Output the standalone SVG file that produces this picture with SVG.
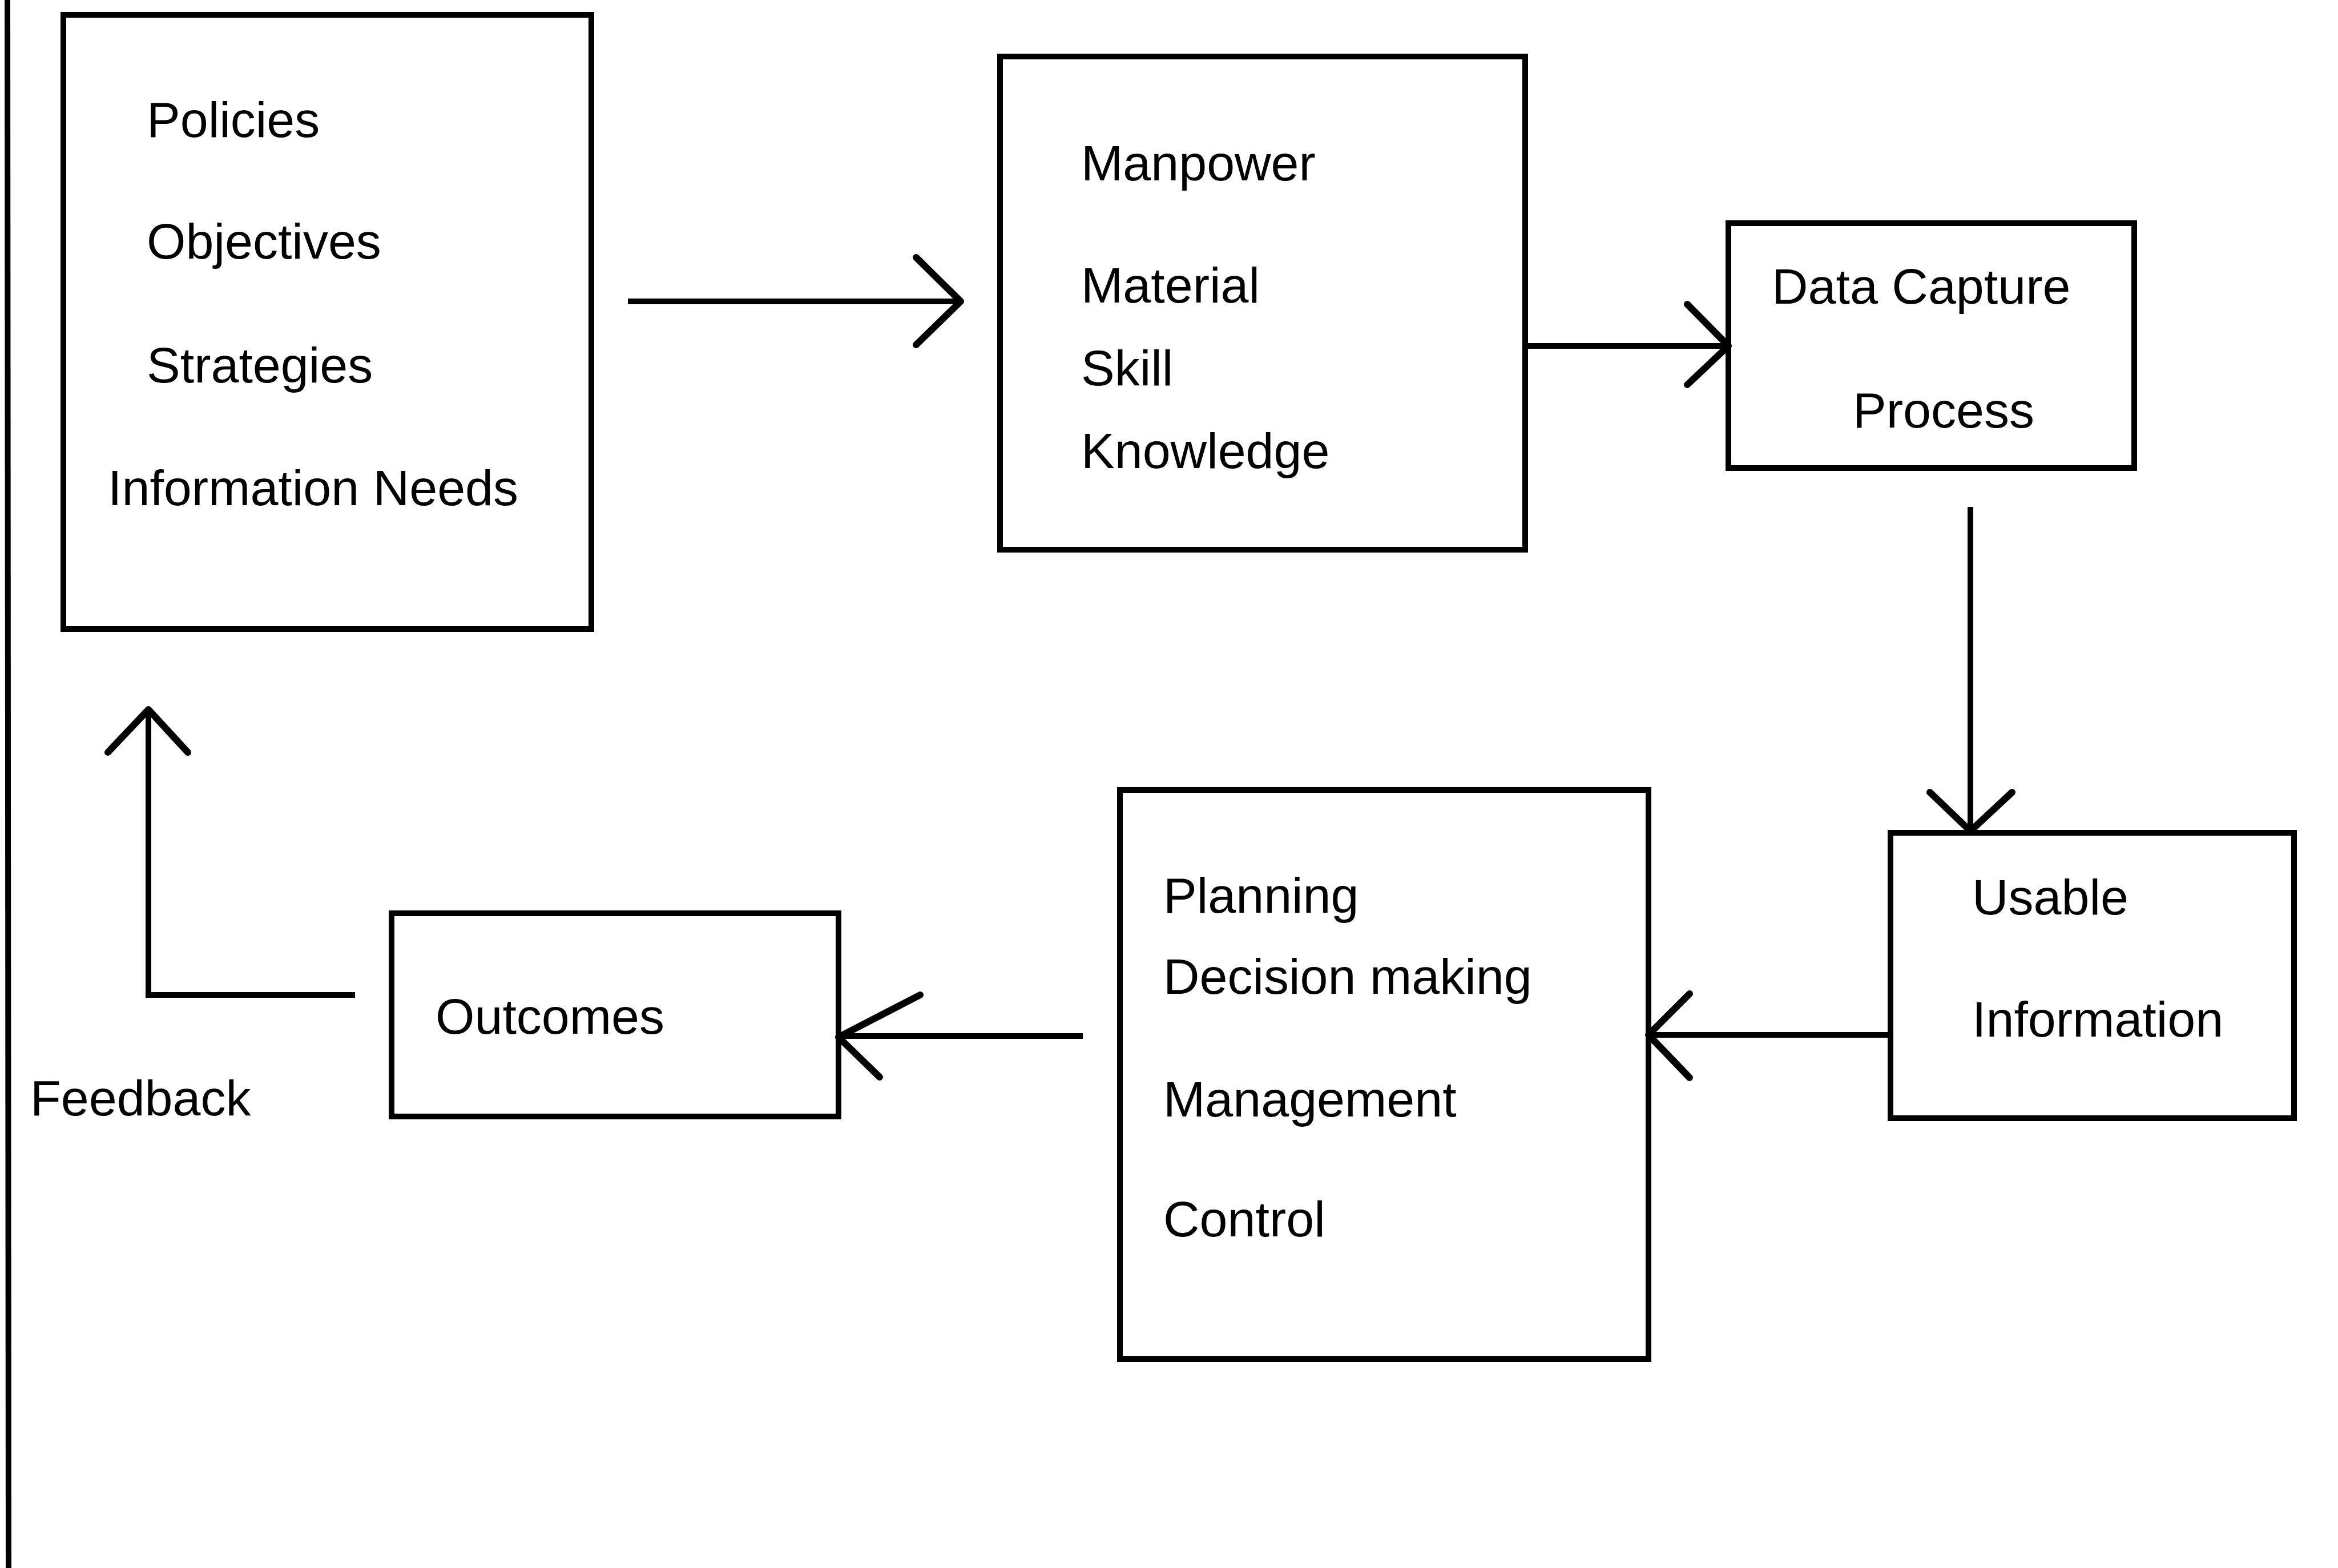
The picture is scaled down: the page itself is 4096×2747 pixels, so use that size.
<svg xmlns="http://www.w3.org/2000/svg" width="4096" height="2747" viewBox="0 0 4096 2747">
<style>
.box{fill:none;stroke:#000;stroke-width:10}
.ln{fill:none;stroke:#000;stroke-width:10}
.hd{fill:none;stroke:#000;stroke-width:12;stroke-linecap:round;stroke-linejoin:round}
text{font-family:"Liberation Sans",Arial,sans-serif;font-size:88px;fill:#000}
</style>
<rect width="4096" height="2747" fill="#fff"/>
<line x1="13" y1="0" x2="15" y2="2747" class="ln"/>
<g id="policies">
<rect x="111" y="26" width="925" height="1076" class="box"/>
<text x="257" y="240">Policies</text>
<text x="257" y="453">Objectives</text>
<text x="257" y="670">Strategies</text>
<text x="189" y="885">Information Needs</text>
</g>
<g id="resources">
<rect x="1752" y="99" width="920" height="864" class="box"/>
<text x="1894" y="316">Manpower</text>
<text x="1894" y="530">Material</text>
<text x="1894" y="675">Skill</text>
<text x="1894" y="820">Knowledge</text>
</g>
<g id="datacapture">
<rect x="3028" y="391" width="711" height="429" class="box"/>
<text x="3104" y="532">Data Capture</text>
<text x="3246" y="749">Process</text>
</g>
<g id="usable">
<rect x="3312" y="1459" width="707" height="500" class="box"/>
<text x="3455" y="1602">Usable</text>
<text x="3455" y="1816">Information</text>
</g>
<g id="planning">
<rect x="1962" y="1384" width="926" height="997" class="box"/>
<text x="2038" y="1599">Planning</text>
<text x="2038" y="1741">Decision making</text>
<text x="2038" y="1956">Management</text>
<text x="2038" y="2166">Control</text>
</g>
<g id="outcomes">
<rect x="686" y="1600" width="783" height="356" class="box"/>
<text x="763" y="1811">Outcomes</text>
</g>
<g id="feedback-label">
<text x="53" y="1954">Feedback</text>
</g>
<g id="connectors">
<line x1="1100" y1="528" x2="1680" y2="528" class="ln"/>
<polyline points="1605,451 1683,528 1605,604" class="hd"/>
<line x1="2672" y1="606" x2="3024" y2="606" class="ln"/>
<polyline points="2956,533 3028,606 2956,674" class="hd"/>
<line x1="3452" y1="888" x2="3452" y2="1452" class="ln"/>
<polyline points="3381,1388 3452,1456 3525,1388" class="hd"/>
<line x1="3312" y1="1813" x2="2892" y2="1813" class="ln"/>
<polyline points="2960,1741 2888,1813 2960,1888" class="hd"/>
<line x1="1897" y1="1815" x2="1473" y2="1815" class="ln"/>
<polyline points="1612,1743 1469,1817 1541,1887" class="hd"/>
<polyline points="622,1743 260,1743 260,1247" class="ln"/>
<polyline points="189,1318 260,1243 329,1318" class="hd"/>
</g>
</svg>
